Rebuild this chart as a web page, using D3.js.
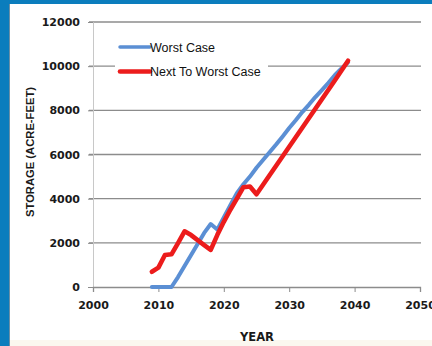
<!DOCTYPE html>
<html>
<head>
<meta charset="utf-8">
<script src="https://cdn.jsdelivr.net/npm/d3@7"></script>
<style>
  body { margin: 0; background: #ffffff; }
  svg { display: block; }
</style>
</head>
<body>
<div id="chart"></div>
<script>
// data
var years = [2009, 2010, 2011, 2012, 2013, 2014, 2015, 2016, 2017, 2018, 2019, 2020, 2021, 2022, 2023, 2024,
             2025, 2026, 2027, 2028, 2029, 2030, 2031, 2032, 2033, 2034, 2035, 2036, 2037, 2038, 2039];
var worstCase = [0, 0, 0, 0, 450, 950, 1450, 1950, 2450, 2850, 2600, 3150, 3700, 4250, 4650, 5000,
                 5400, 5750, 6100, 6450, 6820, 7200, 7550, 7920, 8250, 8600, 8920, 9250, 9600, 9900, 10180];
var nextToWorst = [690, 880, 1450, 1480, 1990, 2520, 2350, 2120, 1900, 1680, 2350, 2950, 3500, 4000, 4520, 4550,
                   4200, 4630, 5060, 5490, 5920, 6350, 6780, 7210, 7640, 8070, 8500, 8930, 9360, 9800, 10250];
var seriesNames = ["Worst Case", "Next To Worst Case"];
var seriesColors = ["#5b8fd4", "#ec1c1c"];
var xTicks = [2000, 2010, 2020, 2030, 2040, 2050];
var yTicks = [0, 2000, 4000, 6000, 8000, 10000, 12000];

var W = 432, H = 346;
var margin = {top: 22, right: 12, bottom: 59, left: 93},
    width = W - margin.left - margin.right,
    height = H - margin.top - margin.bottom;

var root = d3.select("#chart").append("svg")
    .attr("width", W)
    .attr("height", H);

// frame: blue band on left and top, faint cream strip at bottom
root.append("rect").attr("x", 0).attr("y", 0).attr("width", W).attr("height", H).attr("fill", "#ffffff");
root.append("rect").attr("x", 0).attr("y", 0).attr("width", W).attr("height", 4).attr("fill", "#0b7dbd");
root.append("rect").attr("x", 0).attr("y", 0).attr("width", 9).attr("height", H).attr("fill", "#0b7dbd");
root.append("rect").attr("x", 9).attr("y", 4).attr("width", 1).attr("height", H).attr("fill", "#6a8fa6");
root.append("rect").attr("x", 10).attr("y", 340).attr("width", W).attr("height", 6).attr("fill", "#fbf7ef");

var svg = root.append("g")
    .attr("transform", "translate(" + margin.left + "," + margin.top + ")");

var x = d3.scaleLinear().domain([2000, 2050]).range([0, width]);
var y = d3.scaleLinear().domain([0, 12000]).range([height, 0]);

// gridlines
svg.append("g")
  .selectAll("line")
  .data(yTicks.filter(function(d) { return d > 0; }))
  .enter().append("line")
    .attr("x1", -4).attr("x2", width + 1)
    .attr("y1", function(d) { return y(d); })
    .attr("y2", function(d) { return y(d); })
    .style("stroke", "#8c8c8c")
    .style("stroke-width", 1.3);

// y axis
var yAxis = svg.append("g")
    .call(d3.axisLeft(y).tickValues(yTicks).tickSize(5).tickPadding(8).tickFormat(d3.format("d")));
yAxis.select(".domain").style("stroke", "#c8c8c8");
yAxis.selectAll(".tick line").style("stroke", "#8c8c8c");
yAxis.selectAll("text")
    .style("font-family", "DejaVu Sans")
    .style("font-weight", "bold")
    .style("font-size", "11px")
    .style("fill", "#1a1a1a");

// x axis
var xAxis = svg.append("g")
    .attr("transform", "translate(0," + height + ")")
    .call(d3.axisBottom(x).tickValues(xTicks).tickSize(5).tickPadding(9).tickFormat(d3.format("d")));
xAxis.select(".domain").style("stroke", "#8c8c8c").style("stroke-width", 1.3);
xAxis.selectAll(".tick line").style("stroke", "#8c8c8c");
xAxis.selectAll("text")
    .style("font-family", "DejaVu Sans")
    .style("font-weight", "bold")
    .style("font-size", "11px")
    .style("fill", "#1a1a1a");

// axis titles
root.append("text")
    .attr("x", 257).attr("y", 341)
    .attr("text-anchor", "middle")
    .style("font-family", "DejaVu Sans")
    .style("font-weight", "bold")
    .style("font-size", "11.5px")
    .style("fill", "#1a1a1a")
    .text("YEAR");

root.append("text")
    .attr("transform", "translate(34,152) rotate(270)")
    .attr("text-anchor", "middle")
    .attr("textLength", 130)
    .attr("lengthAdjust", "spacingAndGlyphs")
    .style("font-family", "Liberation Sans")
    .style("font-weight", "bold")
    .style("font-size", "11px")
    .style("fill", "#1a1a1a")
    .text("STORAGE (ACRE-FEET)");

// legend box hides the 10000 gridline
var legend = root.append("g");
legend.append("rect")
    .attr("x", 115).attr("y", 34).attr("width", 153).attr("height", 50)
    .attr("fill", "#ffffff");

var line = d3.line()
    .x(function(d) { return x(d[0]); })
    .y(function(d) { return y(d[1]); });

var series = [worstCase, nextToWorst];
series.forEach(function(vals, i) {
  svg.append("path")
    .datum(years.map(function(yr, j) { return [yr, vals[j]]; }))
    .attr("fill", "none")
    .attr("stroke", seriesColors[i])
    .attr("stroke-width", i === 0 ? 4 : 4.6)
    .attr("stroke-linejoin", "round")
    .attr("stroke-linecap", "round")
    .attr("d", line);

  legend.append("line")
    .attr("x1", 120).attr("x2", 150)
    .attr("y1", 47 + i * 24.5).attr("y2", 47 + i * 24.5)
    .attr("stroke", seriesColors[i])
    .attr("stroke-width", i === 0 ? 3.5 : 4.6)
    .attr("stroke-linecap", "round");

  legend.append("text")
    .attr("x", 150).attr("y", 51.5 + i * 24.5)
    .style("font-family", "Liberation Sans")
    .style("font-size", "12.5px")
    .style("fill", "#111111")
    .text(seriesNames[i]);
});
</script>
</body>
</html>
